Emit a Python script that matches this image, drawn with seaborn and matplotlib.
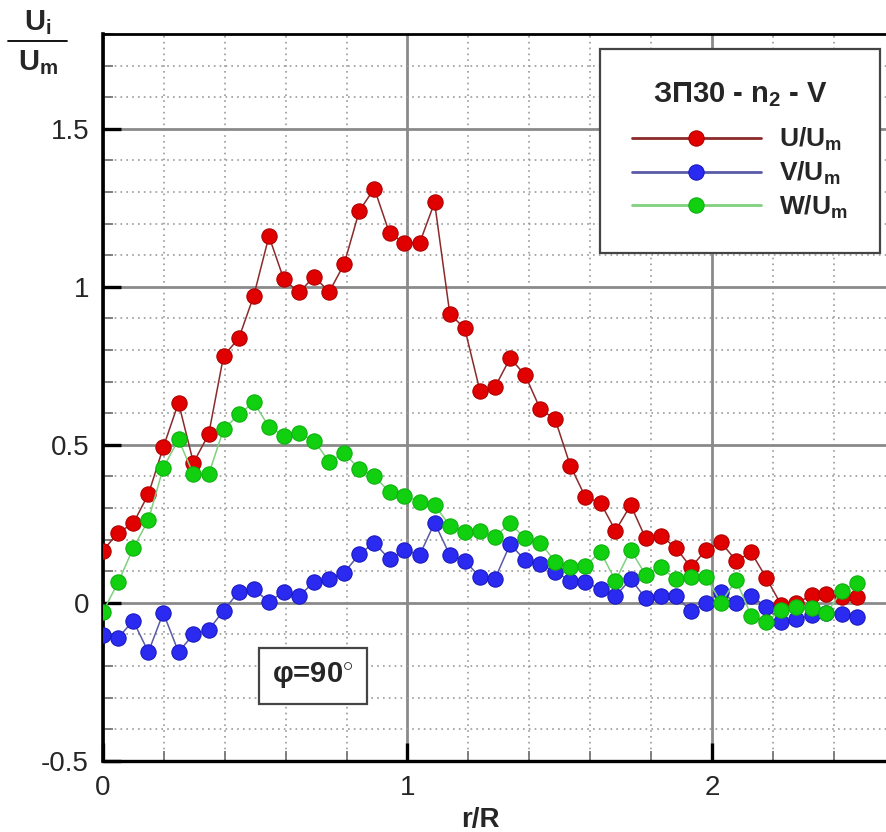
import numpy as np
import pandas as pd
import matplotlib
matplotlib.use("Agg")
import matplotlib.pyplot as plt
import seaborn as sns
from matplotlib.lines import Line2D
from matplotlib.ticker import MultipleLocator, FuncFormatter

# ---- data ----
r_R = [0.000, 0.050, 0.099, 0.149, 0.198, 0.248, 0.297, 0.347, 0.396, 0.446,
       0.495, 0.545, 0.594, 0.644, 0.693, 0.743, 0.792, 0.842, 0.891, 0.941,
       0.990, 1.040, 1.089, 1.139, 1.188, 1.238, 1.287, 1.337, 1.386, 1.436,
       1.485, 1.535, 1.584, 1.634, 1.683, 1.733, 1.782, 1.832, 1.881, 1.931,
       1.980, 2.030, 2.079, 2.129, 2.178, 2.228, 2.277, 2.327, 2.376, 2.426,
       2.475]

U_Um = [0.165, 0.222, 0.251, 0.343, 0.492, 0.633, 0.443, 0.533, 0.781, 0.837,
        0.971, 1.160, 1.023, 0.982, 1.032, 0.984, 1.072, 1.241, 1.311, 1.169,
        1.139, 1.139, 1.267, 0.914, 0.868, 0.670, 0.682, 0.774, 0.721, 0.613,
        0.580, 0.433, 0.335, 0.316, 0.228, 0.309, 0.204, 0.212, 0.174, 0.112,
        0.167, 0.191, 0.133, 0.159, 0.079, -0.008, -0.002, 0.024, 0.028, 0.019,
        0.017]

V_Um = [-0.102, -0.111, -0.057, -0.156, -0.032, -0.156, -0.100, -0.086, -0.025, 0.035,
        0.043, 0.003, 0.035, 0.021, 0.066, 0.075, 0.095, 0.154, 0.190, 0.137,
        0.167, 0.151, 0.253, 0.151, 0.132, 0.082, 0.075, 0.185, 0.135, 0.122,
        0.098, 0.069, 0.065, 0.043, 0.021, 0.075, 0.014, 0.022, 0.021, -0.026,
        -0.002, 0.035, -0.002, 0.021, -0.013, -0.060, -0.053, -0.039, -0.032, -0.036,
        -0.044]

W_Um = [-0.028, 0.065, 0.172, 0.262, 0.427, 0.517, 0.406, 0.406, 0.549, 0.596,
        0.634, 0.557, 0.528, 0.536, 0.513, 0.446, 0.475, 0.422, 0.401, 0.350,
        0.338, 0.320, 0.309, 0.244, 0.225, 0.227, 0.209, 0.251, 0.204, 0.190,
        0.130, 0.112, 0.116, 0.161, 0.070, 0.167, 0.088, 0.113, 0.074, 0.080,
        0.082, 0.000, 0.072, -0.042, -0.060, -0.023, -0.013, -0.018, -0.034, 0.038,
        0.063]

series_labels = ["U/U$_{\\mathbf{m}}$", "V/U$_{\\mathbf{m}}$", "W/U$_{\\mathbf{m}}$"]
legend_title = "ЗП30 - n$_{\\mathbf{2}}$ - V"
y_ticks = [-0.5, 0, 0.5, 1, 1.5]
x_ticks = [0, 1, 2]

# ---- style ----
sns.set_theme(style="white")
plt.rcParams["font.family"] = ["Liberation Sans", "DejaVu Sans"]
plt.rcParams["mathtext.fontset"] = "custom"
plt.rcParams["mathtext.rm"] = "Liberation Sans"
plt.rcParams["mathtext.bf"] = "Liberation Sans:bold"
plt.rcParams["mathtext.it"] = "Liberation Sans:italic"

fig = plt.figure(figsize=(8.86, 8.32), dpi=100)
ax = fig.add_axes([103 / 886, 1 - 760.7 / 832, 1 - 103 / 886, (760.7 - 34) / 832])

styles = [
    dict(line="#8c2a2a", face="#e00000", edge="#b00000"),
    dict(line="#5a5aa8", face="#2a2af0", edge="#1a1ac0"),
    dict(line="#80d080", face="#10d010", edge="#10b010"),
]
for vals, lab, st in zip([U_Um, V_Um, W_Um], series_labels, styles):
    df = pd.DataFrame({"r/R": r_R, "val": vals})
    sns.lineplot(data=df, x="r/R", y="val", ax=ax, color=st["line"], linewidth=1.1,
                 marker="o", markersize=11, markerfacecolor=st["face"],
                 markeredgecolor=st["edge"], markeredgewidth=0.8,
                 label=lab, errorbar=None, sort=False, zorder=3)

ax.set_xlim(0, (886 - 103) / 304.5)
ax.set_ylim(-0.5, 1.8)
ax.set_xticks(x_ticks)
ax.set_yticks(y_ticks)
ax.xaxis.set_minor_locator(MultipleLocator(0.2))
ax.yaxis.set_minor_locator(MultipleLocator(0.1))
fmt = FuncFormatter(lambda v, p: ("%g" % v))
ax.xaxis.set_major_formatter(fmt)
ax.yaxis.set_major_formatter(fmt)

ax.grid(which="major", color="#8a8a8a", linewidth=2.0, linestyle="-", zorder=0)
ax.grid(which="minor", color="#9a9a9a", linewidth=1.2, linestyle=(0, (1, 2.5)), zorder=0)
ax.set_axisbelow(True)

ax.tick_params(which="major", direction="in", length=13, width=2.4, color="black",
               labelsize=20, pad=10)
ax.tick_params(which="minor", direction="in", length=7, width=1.3, color="#777777")
ax.tick_params(axis="x", which="both", bottom=True, top=False)
ax.tick_params(axis="y", which="both", left=True, right=False)

for s in ["left", "bottom", "top"]:
    ax.spines[s].set_visible(True)
    ax.spines[s].set_color("black")
ax.spines["left"].set_linewidth(2.6)
ax.spines["bottom"].set_linewidth(2.4)
ax.spines["top"].set_linewidth(2.0)
ax.spines["right"].set_visible(False)

ax.set_xlabel("")
ax.set_ylabel("")
fig.text(480 / 886, 1 - 820 / 832, "r/R", ha="center", va="center",
         fontsize=20, fontweight="bold")

# legend
leg = ax.legend(loc="upper left", bbox_to_anchor=((600 - 103) / 783, (760.7 - 49) / 726.7),
                title=legend_title, frameon=True, fancybox=False, framealpha=1,
                edgecolor="#444444", handlelength=4.9, handletextpad=0.7,
                labelspacing=0.25, borderpad=1.2, borderaxespad=0,
                prop=dict(size=19, weight="bold"))
leg.get_title().set_fontsize(21)
leg.get_title().set_fontweight("bold")
leg._legend_box.sep = 12
leg.get_frame().set_linewidth(1.6)
for h, st in zip(leg.legend_handles, styles):
    h.set_color(st["line"])
    h.set_markerfacecolor(st["face"])
    h.set_markeredgecolor(st["edge"])
    h.set_linewidth(2)

# phi annotation
ax.text((313 - 103) / 783, (760.7 - 676) / 726.7, "φ=90$^{\\circ}$", transform=ax.transAxes,
        ha="center", va="center", fontsize=21, fontweight="bold",
        bbox=dict(boxstyle="square,pad=0.45", facecolor="white", edgecolor="#444444",
                  linewidth=1.6), zorder=5)

# y-label fraction
fig.text(38 / 886, 1 - 23 / 832, "U$_{\\mathbf{i}}$", ha="center", va="center",
         fontsize=21, fontweight="bold")
fig.add_artist(Line2D([8 / 886, 67 / 886], [1 - 41 / 832, 1 - 41 / 832], color="black",
                      linewidth=1.3, transform=fig.transFigure))
fig.text(38 / 886, 1 - 63 / 832, "U$_{\\mathbf{m}}$", ha="center", va="center",
         fontsize=21, fontweight="bold")

fig.savefig("out.png", dpi=100)
